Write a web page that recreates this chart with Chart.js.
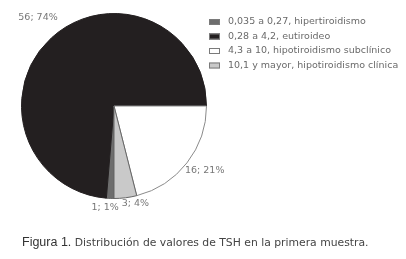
<!DOCTYPE html>
<html><head><meta charset="utf-8">
<script src="https://cdn.jsdelivr.net/npm/chart.js@4"></script>
<style>html,body{margin:0;padding:0;background:#fff;}#wrap{position:relative;width:406px;height:259px;}</style>
</head><body><div id="wrap"><canvas id="c" width="406" height="259"></canvas></div>
<script>
const categories = ["0,035 a 0,27, hipertiroidismo","0,28 a 4,2, eutiroideo","4,3 a 10, hipotiroidismo subclínico","10,1 y mayor, hipotiroidismo clínica"];
const counts = [1, 56, 16, 3];
const percents = [1, 74, 21, 4];
const colors = ["#6d6d6d", "#231f20", "#ffffff", "#c9c9c9"];
const caption = ["Figura 1.", " Distribución de valores de TSH en la primera muestra."];
// label placement style (dx, dy offsets from arc outer point, text align)
const labelStyle = [
  {r: 1.0, dx: -5, dy: 9, align: "center"},
  {r: 1.0, dx: 0, dy: 0, align: "center"},
  {r: 1.0, dx: -2, dy: 8, align: "left"},
  {r: 1.0, dx: 10, dy: 6, align: "center"}
];
const FONT = "'DejaVu Sans', sans-serif";

const labelsPlugin = {
  id: "sliceLabels",
  afterDatasetsDraw(chart) {
    const ctx = chart.ctx;
    const meta = chart.getDatasetMeta(0);
    ctx.save();
    ctx.font = "9.5px " + FONT;
    ctx.fillStyle = "#777";
    ctx.textBaseline = "middle";
    meta.data.forEach((arc, i) => {
      const p = arc.getProps(["x","y","startAngle","endAngle","outerRadius"], true);
      const mid = (p.startAngle + p.endAngle) / 2;
      let x = p.x + Math.cos(mid) * p.outerRadius * labelStyle[i].r;
      let y = p.y + Math.sin(mid) * p.outerRadius * labelStyle[i].r;
      const txt = counts[i] + "; " + percents[i] + "%";
      if (i === 1) { x = chart.chartArea.left + 17; y = chart.chartArea.top + 5; }
      ctx.textAlign = labelStyle[i].align;
      ctx.fillText(txt, x + labelStyle[i].dx, y + labelStyle[i].dy);
    });
    // legend
    const lx = 209, ly = 22, step = 14.5;
    ctx.textAlign = "left";
    categories.forEach((c, i) => {
      const y = ly + i * step;
      ctx.fillStyle = colors[i];
      ctx.fillRect(lx, y - 3, 11, 6);
      ctx.strokeStyle = "#7a7a7a";
      ctx.lineWidth = 1;
      ctx.strokeRect(lx + 0.5, y - 2.5, 10, 5);
      ctx.fillStyle = "#6a6a6a";
      ctx.font = "9.5px " + FONT;
      ctx.fillText(c, 228, y);
    });
    // caption
    ctx.fillStyle = "#333";
    ctx.font = "12.5px 'Liberation Sans', sans-serif";
    ctx.fillText(caption[0], 22, 243);
    const w = ctx.measureText(caption[0]).width;
    ctx.fillStyle = "#444";
    ctx.font = "10.8px " + FONT;
    ctx.fillText(caption[1], 22 + w, 243);
    ctx.restore();
  }
};

new Chart(document.getElementById("c"), {
  type: "pie",
  data: {
    labels: categories,
    datasets: [{
      data: counts,
      backgroundColor: colors,
      borderColor: ["#666", "#231f20", "#8a8a8a", "#666"],
      borderWidth: 1
    }]
  },
  options: {
    responsive: false,
    animation: false,
    rotation: 180,
    layout: {padding: {left: 21, top: 13, right: 199, bottom: 60}},
    plugins: {legend: {display: false}, tooltip: {enabled: false}}
  },
  plugins: [labelsPlugin]
});
</script></body></html>
